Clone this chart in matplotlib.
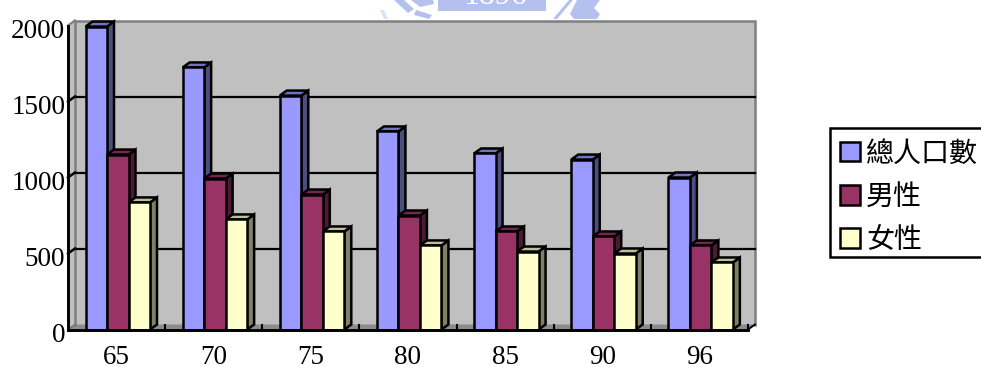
import matplotlib
matplotlib.use("Agg")
import matplotlib.pyplot as plt
from matplotlib.patches import Polygon, Patch, Rectangle
from matplotlib.transforms import ScaledTranslation

plt.rcParams['font.family'] = ['Liberation Serif', 'Noto Sans CJK TC', 'DejaVu Sans']

years = ['65', '70', '75', '80', '85', '90', '96']
total = [1993, 1724, 1539, 1303, 1158, 1118, 1000]
male = [1151, 993, 888, 750, 645, 612, 553]
female = [836, 724, 645, 553, 513, 500, 441]
series_names = ['總人口數', '男性', '女性']
y_ticks = [0, 500, 1000, 1500, 2000]

# face, top and side shades for each series
face = ['#9999FF', '#993366', '#FFFFCC']
top = ['#7373BF', '#732650', '#BFBF99']
side = ['#4D4D80', '#4D1A33', '#808066']

W, H = 981, 367
fig = plt.figure(figsize=(W / 100, H / 100), dpi=100)


def px_rect(x, y, w, h, color):
    fig.add_artist(Rectangle((x / W, 1 - (y + h) / H), w / W, h / H, fc=color, ec='none',
                             transform=fig.transFigure))


def px_poly(pts, color):
    fig.add_artist(Polygon([(x / W, 1 - y / H) for x, y in pts], closed=True, fc=color,
                           ec='none', transform=fig.transFigure))


# pale emblem cut off by the top edge of the page
emblem = '#B4C1EE'
px_rect(438, 0, 108, 11, emblem)
fig.text(495 / W, 1 - 4 / H, '1896', color='white', fontsize=23, ha='center', va='baseline')
px_poly([(394, 0), (404, 0), (414, 9), (408, 13)], emblem)
px_poly([(411, 0), (433, 0), (434, 4), (420, 7)], emblem)
px_poly([(416, 10), (432, 15), (429, 19), (414, 15)], emblem)
px_poly([(569, 0), (573, 0), (557, 19), (553, 19)], emblem)
px_poly([(577, 0), (600, 0), (594, 8), (600, 14), (597, 19), (574, 19), (570, 14)], emblem)
px_poly([(380, 10), (384, 10), (388, 19), (384, 19)], '#DCE2F6')

x0, x1, y_bot, y_top = 68, 748, 329.5, 25.5
ax = fig.add_axes([x0 / W, 1 - y_bot / H, (x1 - x0) / W, (y_bot - y_top) / H])
ax.set_xlim(0, 7)
ax.set_ylim(0, 2000)
ax.patch.set_visible(False)
for s in ax.spines.values():
    s.set_visible(False)

# depth of the pseudo-3D box, expressed in data units
px_x = 7 / (x1 - x0)
px_y = 2000 / (y_bot - y_top)
dx, dy = 7 * px_x, 5 * px_y
LW = 1.8


def poly(pts, fc, ec='none', lw=0, z=1):
    ax.add_patch(Polygon(pts, closed=True, fc=fc, ec=ec, lw=lw, zorder=z,
                         clip_on=False, joinstyle='miter'))


# left wall, back wall and floor
poly([(0, 0), (dx, dy), (dx, 2000 + dy), (0, 2000)], '#C0C0C0', z=1)
poly([(dx, dy), (7 + dx, dy), (7 + dx, 2000 + dy), (dx, 2000 + dy)], '#C0C0C0', z=1)
poly([(0, 0), (7, 0), (7 + dx, dy), (dx, dy)], '#8C8C8C', z=1)
ax.plot([dx, dx, 7 + dx, 7 + dx], [dy, 2000 + dy, 2000 + dy, dy], color='#808080',
        lw=1.8, clip_on=False, zorder=1.5, solid_joinstyle='miter')
ax.plot([0, dx], [2000, 2000 + dy], color='#808080', lw=1.6, clip_on=False, zorder=1.5)
ax.plot([7, 7 + dx], [0, dy], color='black', lw=1.4, clip_on=False, zorder=1.5)

# gridlines run along the back wall and step down the left wall to the axis
for v in y_ticks[1:4]:
    ax.plot([dx, 7 + dx], [v + dy, v + dy], color='black', lw=1.6, clip_on=False, zorder=2)
    ax.plot([0, dx], [v, v + dy], color='black', lw=1.8, clip_on=False, zorder=2)
ax.plot([0, dx], [0, dy], color='#777777', lw=1.2, clip_on=False, zorder=2)

# category boundary marks on the floor
for i in range(1, 8):
    ax.plot([i, i], [0, dy], color='black', lw=1.5, clip_on=False, zorder=2)

# bars: front face through ax.bar, depth faces as polygons on top
bar_w = 21.5 * (7 / (x1 - x0))
start = 17.5 * (7 / (x1 - x0))
for s, values in enumerate([total, male, female]):
    for i, v in enumerate(values):
        left = i + start + s * bar_w
        z = 3 + i + s * 0.1
        poly([(left + bar_w, 0), (left + bar_w + dx, dy), (left + bar_w + dx, v + dy),
              (left + bar_w, v)], side[s], 'black', LW, z)
        poly([(left, v), (left + bar_w, v), (left + bar_w + dx, v + dy), (left + dx, v + dy)],
             top[s], 'black', LW, z)
        ax.bar(left, v, width=bar_w, align='edge', color=face[s], edgecolor='black',
               linewidth=LW, zorder=z + 0.01, clip_on=False)

# front axis lines
ax.plot([0, 0], [0, 2000], color='black', lw=2.1, clip_on=False, zorder=30,
        solid_capstyle='projecting')
ax.plot([0, 7], [0, 0], color='black', lw=2.1, clip_on=False, zorder=30,
        solid_capstyle='projecting')

ax.set_xticks([i + 0.5 for i in range(7)], years)
ax.set_yticks(y_ticks, [str(v) for v in y_ticks])
ax.tick_params(axis='both', length=0, labelsize=19.5, colors='black')
ax.tick_params(axis='x', pad=11)
ax.tick_params(axis='y', pad=2)
# tick labels sit a little below their gridline height
shift = ScaledTranslation(0, -2.5 / 100, fig.dpi_scale_trans)
for lab in ax.get_yticklabels():
    lab.set_transform(lab.get_transform() + shift)

# legend frame runs off the right edge of the figure; entries are placed inside it
fig.add_artist(Rectangle((830 / W, 1 - 257 / H), 160 / W, 129 / H, fc='white', ec='black',
                         lw=1.8, transform=fig.transFigure, clip_on=True))
handles = [Patch(fc=c, ec='black', lw=1.8) for c in face]
leg = fig.legend(handles, series_names, loc='upper left',
                 bbox_to_anchor=(830 / W, 1 - 131.5 / H), prop={'size': 20.2},
                 handlelength=0.7, handleheight=0.7, handletextpad=0.22,
                 labelspacing=0.62, borderpad=0.36, borderaxespad=0, frameon=False)

fig.savefig('out.png', dpi=100, facecolor='white')
